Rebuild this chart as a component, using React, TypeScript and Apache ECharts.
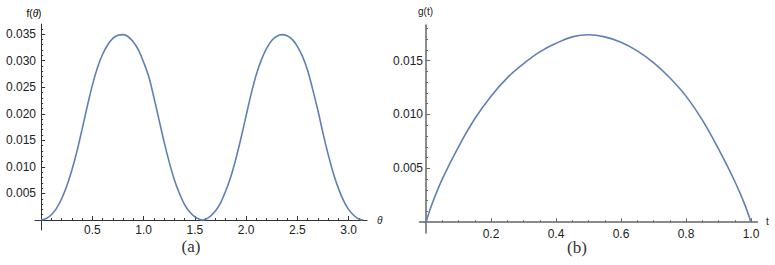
import React, { useEffect, useRef } from "react";
import * as echarts from "echarts";

// ---- data ----
const thetaValues = [
  0, 0.05, 0.1, 0.15, 0.2, 0.25, 0.3, 0.35, 0.4, 0.45, 0.5, 0.55, 0.6, 0.65, 0.7, 0.75,
  0.8, 0.85, 0.9, 0.95, 1.0, 1.05, 1.1, 1.15, 1.2, 1.25, 1.3, 1.35, 1.4, 1.45, 1.5, 1.55, 1.571,
  1.6, 1.65, 1.7, 1.75, 1.8, 1.85, 1.9, 1.95, 2.0, 2.05, 2.1, 2.15, 2.2, 2.25, 2.3, 2.35,
  2.4, 2.45, 2.5, 2.55, 2.6, 2.65, 2.7, 2.75, 2.8, 2.85, 2.9, 2.95, 3.0, 3.05, 3.1, 3.142,
];
const fValues = [
  0, 0.0003, 0.001, 0.0022, 0.004, 0.0064, 0.0094, 0.013, 0.0171, 0.0214, 0.0254, 0.0287, 0.0312, 0.033, 0.0342, 0.0348,
  0.0349, 0.0345, 0.0335, 0.032, 0.0297, 0.027, 0.0231, 0.0189, 0.0147, 0.0109, 0.0076, 0.005, 0.0029, 0.0015, 0.0006, 0.0001, 0,
  0.0001, 0.0007, 0.0017, 0.0032, 0.0054, 0.0081, 0.0115, 0.0154, 0.0196, 0.0238, 0.0274, 0.0302, 0.0323, 0.0338, 0.0346, 0.0349,
  0.0347, 0.034, 0.0327, 0.0308, 0.0282, 0.0246, 0.0207, 0.0164, 0.0124, 0.0089, 0.006, 0.0037, 0.002, 0.0009, 0.0002, 0,
];
const tValues = [
  0, 0.02, 0.05, 0.1, 0.15, 0.2, 0.25, 0.3, 0.35, 0.4, 0.45, 0.5,
  0.55, 0.6, 0.65, 0.7, 0.75, 0.8, 0.85, 0.9, 0.95, 0.98, 1.0,
];
const gValues = [
  0, 0.0018, 0.004, 0.007, 0.0096, 0.0117, 0.0134, 0.0147, 0.0158, 0.0166, 0.0172, 0.0174,
  0.0172, 0.0167, 0.0159, 0.0148, 0.0134, 0.0117, 0.0095, 0.0068, 0.0038, 0.0017, 0,
];

const thetaMajorTicks = [0.5, 1.0, 1.5, 2.0, 2.5, 3.0];
const thetaMinorTicks = [
  0.1, 0.2, 0.3, 0.4, 0.6, 0.7, 0.8, 0.9, 1.1, 1.2, 1.3, 1.4, 1.6, 1.7, 1.8, 1.9,
  2.1, 2.2, 2.3, 2.4, 2.6, 2.7, 2.8, 2.9, 3.1,
];
const fMajorTicks = [0.005, 0.01, 0.015, 0.02, 0.025, 0.03, 0.035];
const fMinorTicks = [
  0.001, 0.002, 0.003, 0.004, 0.006, 0.007, 0.008, 0.009, 0.011, 0.012, 0.013, 0.014,
  0.016, 0.017, 0.018, 0.019, 0.021, 0.022, 0.023, 0.024, 0.026, 0.027, 0.028, 0.029,
  0.031, 0.032, 0.033, 0.034, 0.036,
];
const tMajorTicks = [0.2, 0.4, 0.6, 0.8, 1.0];
const tMinorTicks = [
  0.05, 0.1, 0.15, 0.25, 0.3, 0.35, 0.45, 0.5, 0.55, 0.65, 0.7, 0.75, 0.85, 0.9, 0.95,
];
const gMajorTicks = [0.005, 0.01, 0.015];
const gMinorTicks = [
  0.001, 0.002, 0.003, 0.004, 0.006, 0.007, 0.008, 0.009, 0.011, 0.012, 0.013, 0.014,
  0.016, 0.017, 0.018,
];

const LINE_COLOR = "#5E81B5";
const SANS = '"Liberation Sans", Arial, sans-serif';
const SERIF = '"Liberation Serif", "DejaVu Serif", serif';

function majorAxis(
  dim: "x" | "y",
  gridIndex: number,
  min: number,
  max: number,
  ticks: number[],
  decimals: number,
  onZeroAxisIndex: number,
  axisColor: string,
  axisWidth: number,
  margin: number
) {
  return {
    type: "value",
    gridIndex,
    min,
    max,
    position: dim === "x" ? "bottom" : "left",
    axisLine: {
      show: true,
      onZero: true,
      onZeroAxisIndex,
      lineStyle: { color: axisColor, width: axisWidth },
    },
    axisTick: {
      show: true,
      inside: true,
      length: 4,
      customValues: ticks,
      lineStyle: { color: axisColor, width: 1 },
    },
    axisLabel: {
      show: true,
      customValues: ticks,
      formatter: (v: number) => v.toFixed(decimals),
      margin,
      color: "#222",
      fontSize: 12,
      fontFamily: SANS,
    },
    splitLine: { show: false },
    minorTick: { show: false },
  };
}

function minorAxis(
  dim: "x" | "y",
  gridIndex: number,
  min: number,
  max: number,
  ticks: number[],
  onZeroAxisIndex: number,
  axisColor: string
) {
  return {
    type: "value",
    gridIndex,
    min,
    max,
    position: dim === "x" ? "top" : "right",
    axisLine: {
      show: false,
      onZero: true,
      onZeroAxisIndex,
      lineStyle: { color: axisColor },
    },
    axisTick: {
      show: true,
      inside: false,
      length: 2,
      customValues: ticks,
      lineStyle: { color: axisColor, width: 1 },
    },
    axisLabel: { show: false },
    splitLine: { show: false },
    minorTick: { show: false },
  };
}

export default function App() {
  const ref = useRef<HTMLDivElement>(null);

  useEffect(() => {
    if (!ref.current) return;
    const chart = echarts.init(ref.current, undefined, { renderer: "svg" });

    const fData = thetaValues.map((x, i) => [x, fValues[i]]);
    const gData = tValues.map((x, i) => [x, gValues[i]]);

    const LEFT_AXIS = "#333";
    const RIGHT_AXIS = "#666";

    chart.setOption({
      animation: false,
      backgroundColor: "#fff",
      grid: [
        { left: 35, top: 24, width: 332, height: 206, containLabel: false, outerBoundsMode: "none" },
        { left: 419.5, top: 25, width: 338, height: 208, containLabel: false, outerBoundsMode: "none" },
      ],
      xAxis: [
        majorAxis("x", 0, -0.06, 3.18, thetaMajorTicks, 1, 0, LEFT_AXIS, 1, -6),
        minorAxis("x", 0, -0.06, 3.18, thetaMinorTicks, 0, LEFT_AXIS),
        majorAxis("x", 1, -0.02, 1.02, tMajorTicks, 1, 2, RIGHT_AXIS, 1.5, -5),
        minorAxis("x", 1, -0.02, 1.02, tMinorTicks, 2, RIGHT_AXIS),
      ],
      yAxis: [
        majorAxis("y", 0, -0.00188, 0.0369, fMajorTicks, 3, 0, LEFT_AXIS, 1, -1),
        minorAxis("y", 0, -0.00188, 0.0369, fMinorTicks, 0, LEFT_AXIS),
        majorAxis("y", 1, -0.001, 0.0183, gMajorTicks, 3, 2, RIGHT_AXIS, 1.5, -3.5),
        minorAxis("y", 1, -0.001, 0.0183, gMinorTicks, 2, RIGHT_AXIS),
      ],
      series: [
        {
          type: "line",
          xAxisIndex: 0,
          yAxisIndex: 0,
          data: fData,
          showSymbol: false,
          smooth: 0.35,
          lineStyle: { color: LINE_COLOR, width: 1.6 },
          silent: true,
        },
        {
          type: "line",
          xAxisIndex: 2,
          yAxisIndex: 2,
          data: gData,
          showSymbol: false,
          smooth: 0.4,
          lineStyle: { color: LINE_COLOR, width: 1.6 },
          silent: true,
        },
      ],
      graphic: [
        {
          type: "text",
          x: 34,
          y: 13.5,
          style: {
            text: "{n|f(}{i|θ}{n|)}",
            textAlign: "center",
            textVerticalAlign: "middle",
            rich: {
              n: { fontSize: 10, fontFamily: SANS, color: "#222" },
              i: { fontSize: 10, fontFamily: SANS, fontStyle: "italic", color: "#222" },
            },
          },
        },
        {
          type: "text",
          x: 377,
          y: 220.5,
          style: {
            text: "θ",
            font: `italic 10px ${SANS}`,
            fill: "#222",
            textAlign: "left",
            textVerticalAlign: "middle",
          },
        },
        {
          type: "text",
          x: 425.5,
          y: 11,
          style: {
            text: "g(t)",
            font: `10px ${SANS}`,
            fill: "#222",
            textAlign: "center",
            textVerticalAlign: "middle",
          },
        },
        {
          type: "text",
          x: 766,
          y: 221.5,
          style: {
            text: "t",
            font: `10px ${SANS}`,
            fill: "#222",
            textAlign: "left",
            textVerticalAlign: "middle",
          },
        },
        {
          type: "text",
          x: 191,
          y: 246,
          style: {
            text: "(a)",
            font: `17px ${SERIF}`,
            fill: "#333",
            textAlign: "center",
            textVerticalAlign: "middle",
          },
        },
        {
          type: "text",
          x: 577,
          y: 247,
          style: {
            text: "(b)",
            font: `17px ${SERIF}`,
            fill: "#333",
            textAlign: "center",
            textVerticalAlign: "middle",
          },
        },
      ],
    });

    return () => chart.dispose();
  }, []);

  return (
    <div
      ref={ref}
      style={{ position: "fixed", left: 0, top: 0, width: 775, height: 265, background: "#fff" }}
    />
  );
}
